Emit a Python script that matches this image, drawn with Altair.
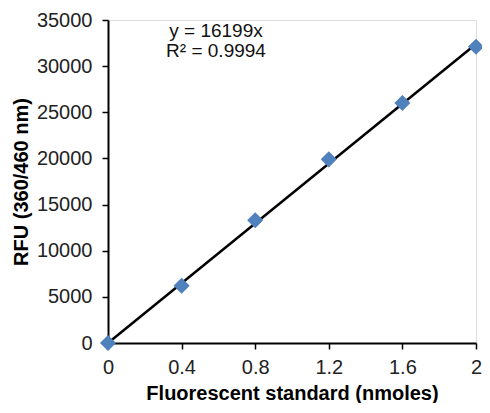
import altair as alt
import pandas as pd

x_vals = [0, 0.4, 0.8, 1.2, 1.6, 2.0]
rfu_vals = [0, 6200, 13300, 19900, 26000, 32100]
slope = 16199
fit_x = [0, 2.0]
eq_lines = ["y = 16199x", "R² = 0.9994"]

pts = pd.DataFrame({"x": x_vals, "y": rfu_vals})
fit = pd.DataFrame({"x": fit_x, "y": [slope * v for v in fit_x]})

FONT = "Liberation Sans"

xscale = alt.Scale(domain=[0, 2], nice=False, zero=False)
yscale = alt.Scale(domain=[0, 35000], nice=False)

xaxis = alt.Axis(title="Fluorescent standard (nmoles)", values=[0, 0.4, 0.8, 1.2, 1.6, 2],
                 format="~g", grid=False, domainColor="black", domainWidth=2, tickColor="black",
                 tickWidth=1.5, tickSize=6, labelFontSize=20, labelFont=FONT, labelColor="#222",
                 labelPadding=8, labelFlush=False, titleFont=FONT, titleFontSize=20,
                 titleFontWeight="bold", titleColor="black", titlePadding=6)
yaxis = alt.Axis(title="RFU (360/460 nm)", values=list(range(0, 35001, 5000)),
                 format="d", grid=False, domainColor="black", domainWidth=2, tickColor="black",
                 tickWidth=1.5, tickSize=6, labelFontSize=20, labelFont=FONT, labelColor="#222",
                 labelPadding=10, labelFlush=False, titleFont=FONT, titleFontSize=20,
                 titleFontWeight="bold", titleColor="black", titlePadding=5)

line = alt.Chart(fit).mark_line(color="black", strokeWidth=2.5).encode(
    x=alt.X("x:Q", scale=xscale, axis=xaxis),
    y=alt.Y("y:Q", scale=yscale, axis=yaxis),
)

points = alt.Chart(pts).mark_point(shape="diamond", filled=True, color="#4F81BD",
                                   opacity=1, size=260).encode(
    x=alt.X("x:Q", scale=xscale, axis=xaxis),
    y=alt.Y("y:Q", scale=yscale, axis=yaxis),
)

texts = [
    alt.Chart(pd.DataFrame({"t": [eq_lines[i]]})).mark_text(
        font=FONT, fontSize=19, color="#111", align="center", baseline="middle"
    ).encode(x=alt.value(108), y=alt.value(yy), text="t:N")
    for i, yy in enumerate([11, 31])
]

chart = alt.layer(line, points, *texts).properties(
    width=368, height=323,
    autosize=alt.AutoSizeParams(type="none"),
    padding={"left": 100, "top": 12, "right": 6, "bottom": 60},
).configure_view(stroke=None).configure(background="white")

chart.save("out.html", embed_options={"renderer": "svg", "actions": False})
